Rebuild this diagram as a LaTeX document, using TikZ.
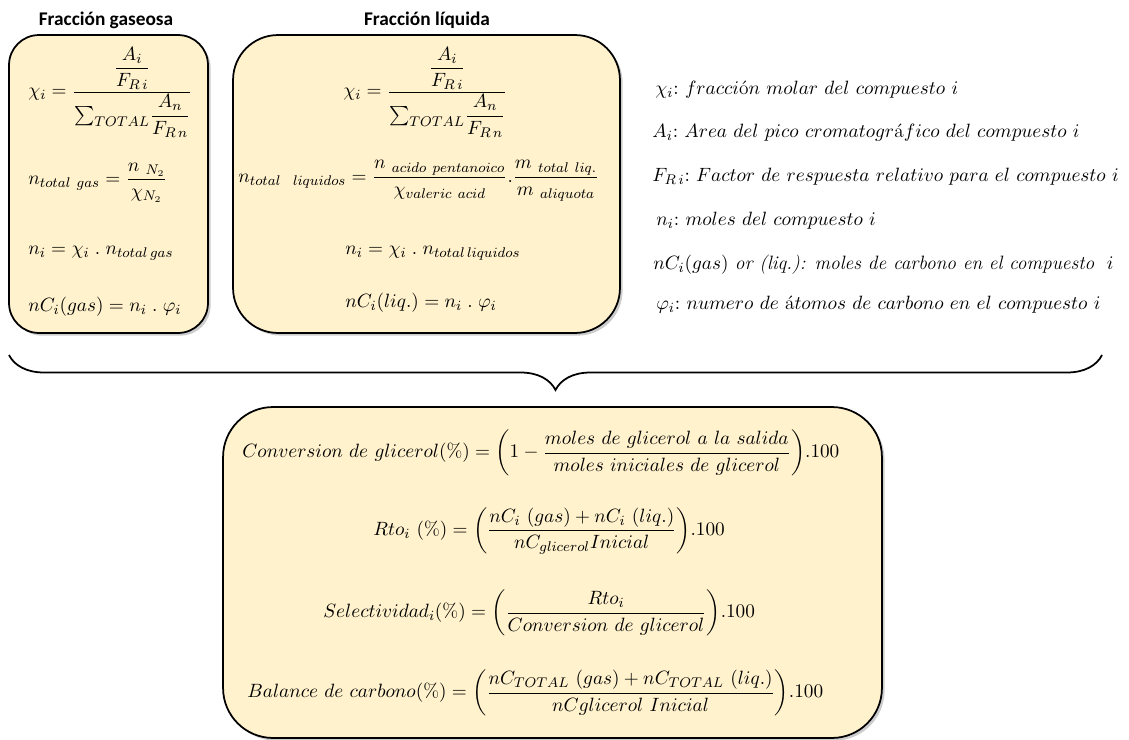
\documentclass[tikz,border=0pt]{standalone}
\usepackage{amsmath}
\usepackage{fontspec}
\usepackage{tikz}
\usetikzlibrary{decorations.pathreplacing,shadows}
\usetikzlibrary{positioning}
\newfontfamily\titulofont{Carlito}
\definecolor{fondocaja}{RGB}{255,242,204}

\begin{document}
\begin{tikzpicture}[%
x={(0.02cm,0cm)},
y={(0cm,-0.02cm)},
caja/.style={draw=black,line width=1pt,fill=fondocaja,
  drop shadow={shadow xshift=1.5pt,shadow yshift=-1.5pt,opacity=0.4}},
ecuacion/.style={anchor=west,inner sep=0pt,font=\fontsize{11}{13}\selectfont},
titulo/.style={font=\titulofont\bfseries\fontsize{11}{13}\selectfont},
]

\useasboundingbox (0,0) rectangle (1129,740);

%Cajas
\node[caja,rounded corners=0.6cm,minimum width=3.98cm,minimum height=5.96cm](gas) at (108.5,184){};
\node[caja,rounded corners=0.9cm,minimum width=7.74cm,minimum height=5.96cm](liq) at (426.5,184){};
\node[caja,rounded corners=1cm,minimum width=13.18cm,minimum height=6.62cm](balance) at (552.5,572.5){};

%Titulos
\node[titulo](tgas) at (106,20){Fracción gaseosa};
\node[titulo](tliq) at (427,20){Fracción líquida};

%Fraccion gaseosa
\node[ecuacion](xgas) at (28,92){$\chi_i=\dfrac{\dfrac{A_i}{F_{R\,i}}}{{\textstyle\sum_{TOTAL}}\dfrac{A_n}{F_{R\,n}}}$};
\node[ecuacion](ntgas) at (28,183){$n_{total\ gas}=\dfrac{n_{\ N_2}}{\chi_{N_2}}$};
\node[ecuacion](nigas) at (28,253){$n_i=\chi_i\;.\;n_{total\,gas}$};
\node[ecuacion](ncgas) at (28,307){$nC_i(gas)=n_i\;.\;\varphi_i$};

%Fraccion liquida
\node[ecuacion](xliq) at (343,92){$\chi_i=\dfrac{\dfrac{A_i}{F_{R\,i}}}{{\textstyle\sum_{TOTAL}}\dfrac{A_n}{F_{R\,n}}}$};
\node[ecuacion](ntliq) at (238,181){$n_{total\ \ liquidos}=\dfrac{n_{\ acido\ pentanoico}}{\chi_{valeric\ acid}}.\dfrac{m_{\ total\ liq.}}{m_{\ aliquota}}$};
\node[ecuacion](niliq) at (345,253){$n_i=\chi_i\;.\;n_{total\,liquidos}$};
\node[ecuacion](ncliq) at (345,303){$nC_i(liq.)=n_i\;.\;\varphi_i$};

%Leyenda
\node[ecuacion](lx) at (655,90){$\chi_i{:}\ fracci\text{ó}n\ molar\ del\ compuesto\ i$};
\node[ecuacion](la) at (652,133){$A_i{:}\ Area\ del\ pico\ cromatogr\text{á}fico\ del\ compuesto\ i$};
\node[ecuacion](lf) at (652,177){$F_{R\,i}{:}\ Factor\ de\ respuesta\ relativo\ para\ el\ compuesto\ i$};
\node[ecuacion](ln) at (656,221){$n_i{:}\ moles\ del\ compuesto\ i$};
\node[ecuacion](lc) at (653,265){$nC_i(gas)$\ \textit{or (liq.): moles de carbono en el compuesto}\ \ $i$};
\node[ecuacion](lp) at (656,305){$\varphi_i{:}\ numero\ de\ \text{á}tomos\ de\ carbono\ en\ el\ compuesto\ i$};

%Llave
\coordinate (brI) at (9,355);
\coordinate (brD) at (1102,355);
\draw[line width=1pt,decorate,decoration={brace,mirror,amplitude=0.7cm,aspect=0.5}] (brI) -- (brD);

%Balance
\node[ecuacion](conv) at (242,453){$Conversion\ de\ glicerol(\%)=\left(1-\dfrac{moles\ de\ glicerol\ a\ la\ salida}{moles\ iniciales\ de\ glicerol}\right)\!.100$};
\node[ecuacion](rto) at (373,531){$Rto_i\ (\%)=\left(\dfrac{nC_i\ (gas)+nC_i\ (liq.)}{nC_{glicerol}Inicial}\right)\!.100$};
\node[ecuacion](sel) at (323,613){$Selectividad_i(\%)=\left(\dfrac{Rto_i}{Conversion\ de\ glicerol}\right)\!.100$};
\node[ecuacion](bal) at (247,693){$Balance\ de\ carbono(\%)=\left(\dfrac{nC_{TOTAL}\ (gas)+nC_{TOTAL}\ (liq.)}{nCglicerol\ Inicial}\right)\!.100$};

\end{tikzpicture}
\end{document}
